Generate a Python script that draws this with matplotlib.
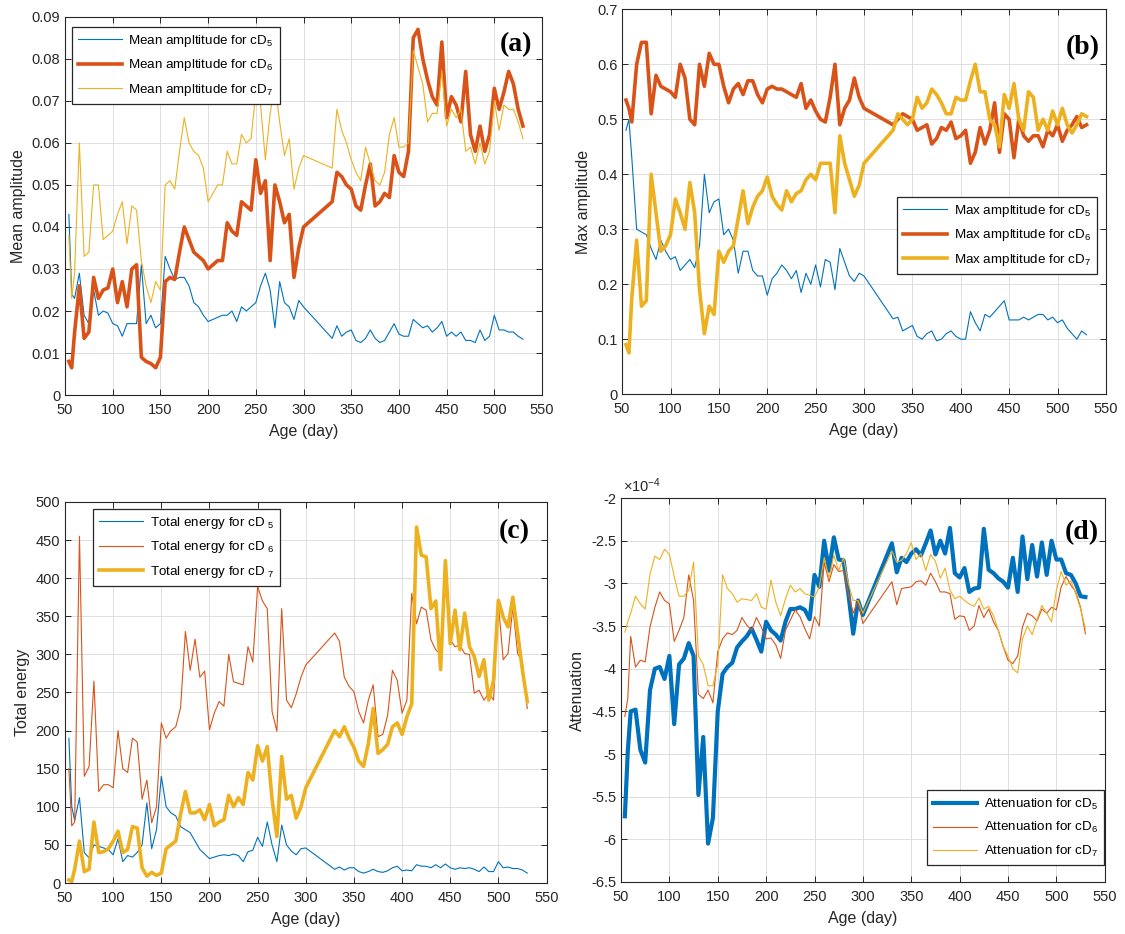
import matplotlib.pyplot as plt

# ============================================
# Data read off the four panels (same measurement days for every series)
# ============================================
age = [54, 57, 60, 65, 70, 75, 80, 85, 90, 95,
       100, 105, 110, 115, 120, 125, 130, 135, 140, 145,
       150, 155, 160, 165, 170, 175, 180, 185, 190, 195,
       200, 205, 210, 215, 220, 225, 230, 235, 240, 245,
       250, 255, 260, 265, 270, 275, 280, 285, 290, 295,
       300,
       330, 335, 340, 345, 350, 355, 360, 365, 370, 375,
       380, 385, 390, 395, 400, 405, 410, 415, 420, 425,
       430, 435, 440, 445, 450, 455, 460, 465, 470, 475,
       480, 485, 490, 495, 500, 505, 510, 515, 520, 525,
       530]

# (a) mean amplitude
mean_cd5 = [0.043, 0.024, 0.023, 0.029, 0.019, 0.017, 0.025, 0.019, 0.020, 0.0195,
            0.017, 0.0165, 0.014, 0.017, 0.017, 0.017, 0.031, 0.017, 0.019, 0.016,
            0.017, 0.033, 0.030, 0.0275, 0.028, 0.028, 0.026, 0.022, 0.021, 0.019,
            0.0175, 0.018, 0.0185, 0.019, 0.019, 0.020, 0.0175, 0.021, 0.020, 0.021,
            0.022, 0.026, 0.029, 0.025, 0.016, 0.027, 0.022, 0.021, 0.018, 0.0225,
            0.021,
            0.0135, 0.0165, 0.014, 0.015, 0.0155, 0.013, 0.0125, 0.0135, 0.0155, 0.0135,
            0.0125, 0.013, 0.015, 0.017, 0.0145, 0.014, 0.014, 0.018, 0.017, 0.016,
            0.0165, 0.015, 0.016, 0.0175, 0.014, 0.015, 0.014, 0.015, 0.013, 0.013,
            0.0125, 0.0155, 0.013, 0.014, 0.019, 0.0155, 0.0155, 0.015, 0.015, 0.014,
            0.0133]
mean_cd6 = [0.008, 0.0065, 0.0148, 0.026, 0.0135, 0.015, 0.028, 0.023, 0.025, 0.0255,
            0.030, 0.022, 0.027, 0.021, 0.030, 0.031, 0.009, 0.008, 0.0075, 0.0065,
            0.009, 0.027, 0.028, 0.0275, 0.034, 0.040, 0.037, 0.034, 0.033, 0.032,
            0.030, 0.031, 0.032, 0.032, 0.041, 0.039, 0.038, 0.046, 0.045, 0.044,
            0.056, 0.048, 0.051, 0.032, 0.050, 0.046, 0.041, 0.043, 0.028, 0.035,
            0.040,
            0.046, 0.053, 0.052, 0.050, 0.049, 0.045, 0.044, 0.050, 0.055, 0.045,
            0.046, 0.048, 0.047, 0.057, 0.053, 0.052, 0.058, 0.085, 0.087, 0.080,
            0.075, 0.071, 0.069, 0.084, 0.066, 0.071, 0.069, 0.065, 0.077, 0.062,
            0.058, 0.064, 0.058, 0.062, 0.073, 0.068, 0.072, 0.077, 0.074, 0.068,
            0.064]
mean_cd7 = [0.038, 0.023, 0.029, 0.060, 0.033, 0.034, 0.050, 0.050, 0.037, 0.038,
            0.039, 0.043, 0.046, 0.036, 0.045, 0.044, 0.032, 0.026, 0.022, 0.027,
            0.025, 0.050, 0.051, 0.049, 0.058, 0.066, 0.060, 0.058, 0.057, 0.054,
            0.046, 0.048, 0.050, 0.050, 0.058, 0.055, 0.055, 0.062, 0.060, 0.061,
            0.072, 0.069, 0.056, 0.067, 0.074, 0.065, 0.057, 0.061, 0.049, 0.054,
            0.057,
            0.054, 0.068, 0.063, 0.060, 0.056, 0.053, 0.051, 0.059, 0.055, 0.051,
            0.050, 0.053, 0.062, 0.066, 0.059, 0.059, 0.060, 0.082, 0.078, 0.074,
            0.065, 0.067, 0.067, 0.077, 0.064, 0.068, 0.066, 0.068, 0.058, 0.059,
            0.055, 0.060, 0.055, 0.058, 0.070, 0.063, 0.069, 0.068, 0.068, 0.065,
            0.061]

# (b) max amplitude
max_cd5 = [0.48, 0.50, 0.43, 0.30, 0.295, 0.29, 0.265, 0.245, 0.28, 0.26,
           0.245, 0.25, 0.225, 0.235, 0.245, 0.23, 0.27, 0.40, 0.33, 0.35,
           0.355, 0.29, 0.30, 0.28, 0.22, 0.26, 0.26, 0.225, 0.215, 0.215,
           0.18, 0.21, 0.22, 0.235, 0.225, 0.21, 0.225, 0.185, 0.22, 0.20,
           0.235, 0.195, 0.245, 0.24, 0.19, 0.265, 0.24, 0.215, 0.205, 0.22,
           0.215,
           0.137, 0.14, 0.115, 0.12, 0.125, 0.105, 0.10, 0.11, 0.115, 0.097,
           0.10, 0.11, 0.115, 0.105, 0.10, 0.10, 0.15, 0.13, 0.115, 0.145,
           0.14, 0.15, 0.16, 0.17, 0.135, 0.135, 0.135, 0.14, 0.135, 0.14,
           0.145, 0.145, 0.135, 0.14, 0.13, 0.135, 0.12, 0.11, 0.10, 0.115,
           0.108]
max_cd6 = [0.535, 0.52, 0.495, 0.60, 0.64, 0.64, 0.51, 0.58, 0.56, 0.555,
           0.55, 0.54, 0.60, 0.575, 0.50, 0.49, 0.60, 0.56, 0.62, 0.60,
           0.60, 0.56, 0.53, 0.555, 0.565, 0.545, 0.57, 0.57, 0.545, 0.53,
           0.555, 0.56, 0.555, 0.555, 0.55, 0.545, 0.54, 0.565, 0.52, 0.535,
           0.515, 0.50, 0.495, 0.54, 0.60, 0.49, 0.52, 0.535, 0.575, 0.54,
           0.52,
           0.49, 0.50, 0.51, 0.505, 0.50, 0.48, 0.485, 0.49, 0.455, 0.465,
           0.485, 0.48, 0.495, 0.465, 0.47, 0.48, 0.42, 0.44, 0.485, 0.455,
           0.48, 0.53, 0.44, 0.51, 0.50, 0.43, 0.50, 0.47, 0.46, 0.47,
           0.47, 0.45, 0.48, 0.47, 0.49, 0.46, 0.48, 0.49, 0.505, 0.485,
           0.49]
max_cd7 = [0.09, 0.075, 0.175, 0.28, 0.16, 0.17, 0.40, 0.33, 0.26, 0.27,
           0.29, 0.355, 0.33, 0.30, 0.385, 0.33, 0.19, 0.11, 0.16, 0.145,
           0.26, 0.24, 0.26, 0.27, 0.32, 0.37, 0.31, 0.34, 0.36, 0.37,
           0.395, 0.36, 0.345, 0.335, 0.37, 0.35, 0.365, 0.37, 0.39, 0.40,
           0.39, 0.42, 0.42, 0.42, 0.33, 0.47, 0.42, 0.39, 0.36, 0.38,
           0.42,
           0.48, 0.51, 0.50, 0.49, 0.50, 0.54, 0.52, 0.53, 0.555, 0.545,
           0.53, 0.51, 0.51, 0.54, 0.535, 0.535, 0.57, 0.60, 0.55, 0.55,
           0.50, 0.49, 0.45, 0.545, 0.52, 0.565, 0.50, 0.48, 0.55, 0.54,
           0.48, 0.50, 0.48, 0.515, 0.49, 0.52, 0.49, 0.475, 0.49, 0.51,
           0.505]

# (c) total energy
energy_cd5 = [190, 100, 82, 112, 40, 33, 50, 48, 46, 44,
              37, 58, 28, 36, 34, 40, 50, 105, 45, 70,
              140, 100, 92, 88, 74, 70, 66, 55, 44, 38,
              32, 34, 36, 37, 36, 38, 36, 28, 41, 43,
              60, 48, 80, 50, 28, 76, 50, 42, 37, 45,
              46,
              18, 21, 17, 20, 20, 15, 13, 15, 18, 15,
              14, 16, 20, 22, 16, 17, 16, 24, 22, 22,
              20, 24, 20, 25, 20, 18, 20, 19, 20, 18,
              15, 21, 15, 15, 28, 20, 21, 19, 19, 17,
              13]
energy_cd6 = [150, 75, 80, 455, 140, 153, 265, 120, 129, 129,
              125, 200, 150, 145, 190, 185, 110, 135, 79, 100,
              210, 190, 200, 205, 230, 330, 279, 320, 270, 278,
              201, 223, 238, 232, 300, 264, 262, 260, 310, 290,
              389, 370, 360, 225, 199, 360, 240, 230, 248, 270,
              286,
              328, 317, 270, 258, 251, 225, 210, 240, 260, 192,
              195, 220, 279, 266, 223, 240, 380, 340, 362, 358,
              319, 306, 300, 419, 319, 310, 312, 301, 300, 249,
              253, 240, 249, 240, 367, 293, 301, 362, 301, 290,
              229]
energy_cd7 = [4, 2, 18, 55, 15, 18, 80, 40, 41, 45,
              55, 68, 40, 44, 74, 72, 20, 9, 14, 10,
              13, 45, 50, 55, 90, 120, 92, 92, 96, 83,
              103, 75, 80, 83, 115, 100, 112, 103, 145, 135,
              180, 160, 179, 110, 61, 166, 110, 115, 85, 100,
              125,
              200, 192, 205, 190, 178, 160, 153, 183, 229, 170,
              175, 182, 205, 210, 195, 218, 235, 467, 430, 428,
              360, 370, 280, 423, 314, 358, 306, 354, 310, 297,
              271, 293, 240, 266, 371, 349, 336, 375, 328, 279,
              238]

# (d) attenuation, in units of 1e-4
atten_cd5 = [-5.73, -4.97, -4.50, -4.48, -4.95, -5.10, -4.25, -4.00, -3.98, -4.12,
             -3.85, -4.65, -3.95, -3.88, -3.70, -3.85, -5.48, -4.80, -6.05, -5.75,
             -4.50, -4.06, -3.98, -3.93, -3.75, -3.68, -3.62, -3.53, -3.66, -3.80,
             -3.45, -3.55, -3.60, -3.67, -3.45, -3.30, -3.30, -3.28, -3.31, -3.42,
             -2.90, -3.04, -2.50, -2.85, -2.46, -2.72, -2.73, -3.12, -3.59, -3.20,
             -3.37,
             -2.53, -2.87, -2.70, -2.75, -2.65, -2.60, -2.67, -2.53, -2.38, -2.66,
             -2.50, -2.65, -2.35, -2.88, -2.93, -2.82, -3.10, -3.06, -3.05, -2.36,
             -2.84, -2.88, -2.94, -2.98, -3.05, -2.70, -3.10, -2.45, -2.95, -2.55,
             -2.92, -2.52, -2.90, -2.50, -2.72, -2.72, -2.88, -2.90, -3.00, -3.15,
             -3.16]
atten_cd6 = [-4.56, -4.35, -3.62, -3.98, -3.90, -3.92, -3.51, -3.28, -3.10, -3.20,
             -3.24, -3.68, -3.55, -3.40, -2.90, -3.20, -4.30, -4.35, -4.25, -4.40,
             -3.80, -3.65, -3.58, -3.60, -3.55, -3.40, -3.49, -3.55, -3.40, -3.51,
             -3.65, -3.64, -3.72, -3.88, -3.55, -3.43, -3.31, -3.39, -3.53, -3.65,
             -3.39, -3.50, -2.75, -2.98, -2.78, -2.86, -2.85, -3.12, -3.35, -3.20,
             -3.47,
             -2.98, -3.25, -3.06, -3.05, -3.04, -2.98, -2.97, -3.02, -2.88, -2.98,
             -3.10, -3.10, -3.12, -3.42, -3.38, -3.39, -3.55, -3.50, -3.26, -3.40,
             -3.30, -3.45, -3.55, -3.74, -3.90, -3.94, -3.85, -3.51, -3.35, -3.38,
             -3.44, -3.30, -3.35, -3.28, -3.31, -3.04, -2.92, -3.02, -3.10, -3.28,
             -3.59]
atten_cd7 = [-3.57, -3.45, -3.35, -3.15, -3.24, -3.30, -2.89, -2.68, -2.72, -2.60,
             -2.66, -2.92, -3.15, -3.15, -3.08, -2.75, -3.85, -3.95, -4.20, -4.20,
             -3.95, -2.90, -3.06, -3.12, -3.22, -3.18, -3.19, -3.20, -3.12, -3.28,
             -3.30, -2.96, -3.22, -3.38, -3.18, -3.02, -3.10, -3.06, -3.12, -3.14,
             -3.16, -3.04, -2.70, -2.94, -2.67, -2.85, -2.70, -3.00, -3.20, -3.20,
             -3.35,
             -2.62, -2.75, -2.73, -2.65, -2.52, -2.72, -2.65, -2.85, -2.66, -2.74,
             -2.94, -2.82, -3.08, -3.18, -3.15, -3.20, -3.24, -3.27, -3.17, -3.30,
             -3.27, -3.38, -3.55, -3.74, -3.85, -4.00, -4.05, -3.65, -3.50, -3.60,
             -3.42, -3.26, -3.35, -3.45, -3.08, -2.86, -3.02, -2.97, -3.12, -3.30,
             -3.53]

x_ticks = [50, 100, 150, 200, 250, 300, 350, 400, 450, 500, 550]
mean_ticks = [0, 0.01, 0.02, 0.03, 0.04, 0.05, 0.06, 0.07, 0.08, 0.09]
max_ticks = [0, 0.1, 0.2, 0.3, 0.4, 0.5, 0.6, 0.7]
energy_ticks = [0, 50, 100, 150, 200, 250, 300, 350, 400, 450, 500]
atten_ticks = [-6.5, -6, -5.5, -5, -4.5, -4, -3.5, -3, -2.5, -2]

# ============================================
# Styling (MATLAB-like defaults)
# ============================================
plt.rcParams['font.family'] = ['Liberation Sans', 'DejaVu Sans']
plt.rcParams['mathtext.fontset'] = 'custom'
plt.rcParams['mathtext.rm'] = 'Liberation Sans'
plt.rcParams['mathtext.it'] = 'Liberation Sans:italic'
plt.rcParams['axes.unicode_minus'] = False

BLUE = '#0072BD'
ORANGE = '#D95319'
YELLOW = '#EDB120'
DARK = '#262626'
THIN = 0.8
THICK = 2.6


def style_axes(ax, yticks, ylabel, letter, letter_pos):
    ax.set_xlim(50, 550)
    ax.set_ylim(yticks[0], yticks[-1])
    ax.set_xticks(x_ticks)
    ax.set_xticklabels([f'{t:g}' for t in x_ticks])
    ax.set_yticks(yticks)
    ax.set_yticklabels([f'{t:g}' for t in yticks])
    ax.tick_params(direction='in', length=4, width=0.7, top=True, right=True,
                   labelsize=10.5, colors=DARK)
    ax.tick_params(axis='x', pad=6)
    for sp in ax.spines.values():
        sp.set_color(DARK)
        sp.set_linewidth(0.8)
    ax.grid(True, color='#dedede', linewidth=0.7)
    ax.set_axisbelow(True)
    ax.set_xlabel('Age (day)', fontsize=11.5, color=DARK, labelpad=5)
    ax.set_ylabel(ylabel, fontsize=11.5, color=DARK, labelpad=4)
    ax.text(letter_pos[0], letter_pos[1], letter, transform=ax.transAxes,
            fontsize=20, fontweight='bold', family='Liberation Serif',
            ha='center', va='center')


def add_legend(ax, loc, anchor):
    leg = ax.legend(loc=loc, bbox_to_anchor=anchor, fancybox=False,
                    edgecolor=DARK, framealpha=1, fontsize=9.6,
                    handlelength=3.3, borderpad=0.45, labelspacing=0.65,
                    handletextpad=0.5, borderaxespad=0)
    leg.get_frame().set_linewidth(0.9)


fig = plt.figure(figsize=(11.25, 9.34), dpi=100)

# ---- (a) Mean amplitude
ax = fig.add_axes([0.0578, 0.577, 0.424, 0.405])
ax.plot(age, mean_cd5, color=BLUE, lw=THIN, label='Mean ampltitude for cD$_5$')
ax.plot(age, mean_cd6, color=ORANGE, lw=THICK, label='Mean ampltitude for cD$_6$')
ax.plot(age, mean_cd7, color=YELLOW, lw=THIN, label='Mean ampltitude for cD$_7$')
style_axes(ax, mean_ticks, 'Mean amplitude', '(a)', (0.945, 0.926))
add_legend(ax, 'upper left', (0.014, 0.974))

# ---- (b) Max amplitude
ax = fig.add_axes([0.553, 0.578, 0.430, 0.412])
ax.plot(age, max_cd5, color=BLUE, lw=THIN, label='Max ampltitude for cD$_5$')
ax.plot(age, max_cd6, color=ORANGE, lw=THICK, label='Max ampltitude for cD$_6$')
ax.plot(age, max_cd7, color=YELLOW, lw=THICK, label='Max ampltitude for cD$_7$')
style_axes(ax, max_ticks, 'Max amplitude', '(b)', (0.952, 0.901))
add_legend(ax, 'lower right', (0.981, 0.312))

# ---- (c) Total energy
ax = fig.add_axes([0.0578, 0.0546, 0.428, 0.408])
ax.plot(age, energy_cd5, color=BLUE, lw=THIN, label='Total energy for cD $_5$')
ax.plot(age, energy_cd6, color=ORANGE, lw=THIN, label='Total energy for cD $_6$')
ax.plot(age, energy_cd7, color=YELLOW, lw=THICK, label='Total energy for cD $_7$')
style_axes(ax, energy_ticks, 'Total energy', '(c)', (0.934, 0.921))
add_legend(ax, 'upper left', (0.058, 0.982))

# ---- (d) Attenuation
ax = fig.add_axes([0.552, 0.0557, 0.430, 0.411])
ax.plot(age, atten_cd5, color=BLUE, lw=THICK + 0.4, label='Attenuation for cD$_5$')
ax.plot(age, atten_cd6, color=ORANGE, lw=THIN, label='Attenuation for cD$_6$')
ax.plot(age, atten_cd7, color=YELLOW, lw=THIN, label='Attenuation for cD$_7$')
style_axes(ax, atten_ticks, 'Attenuation', '(d)', (0.952, 0.911))
add_legend(ax, 'lower right', (0.998, 0.044))
ax.text(0.005, 1.008, r'$\times10^{-4}$', transform=ax.transAxes,
        ha='left', va='bottom', fontsize=10.5, color=DARK)

plt.savefig('out.png', dpi=100)
print("Saved: out.png")
